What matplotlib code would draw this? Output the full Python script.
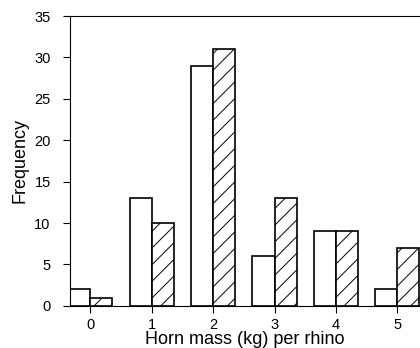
import matplotlib.pyplot as plt
import numpy as np

plt.rcParams['font.family'] = ['Liberation Sans', 'DejaVu Sans']
plt.rcParams['hatch.linewidth'] = 0.7

mass = [0, 1, 2, 3, 4, 5]
open_freq = [2, 13, 29, 6, 9, 2]
hatched_freq = [1, 10, 31, 13, 9, 7]

fig = plt.figure(figsize=(4.2, 3.48), dpi=100)
ax = fig.add_axes([0.167, 0.121, 0.833, 0.833])

x = np.array(mass)
w = 0.36
ax.bar(x - w / 2, open_freq, width=w, color="white", edgecolor="black", linewidth=1.2)
ax.bar(x + w / 2, hatched_freq, width=w, color="white", edgecolor="black", linewidth=1.2, hatch="//")

ax.set_xlim(-0.33, 5.37)
ax.set_ylim(0, 35)
ax.set_yticks(range(0, 36, 5))
ax.set_xticks(mass)
ax.spines["right"].set_visible(False)
ax.tick_params(direction="out", length=5, labelsize=10.5)
ax.tick_params(axis="y", pad=9)
ax.tick_params(axis="x", pad=4)
ax.set_xlabel("Horn mass (kg) per rhino", fontsize=13, labelpad=-1)
ax.set_ylabel("Frequency", fontsize=13, labelpad=4)

plt.savefig("out.png")
